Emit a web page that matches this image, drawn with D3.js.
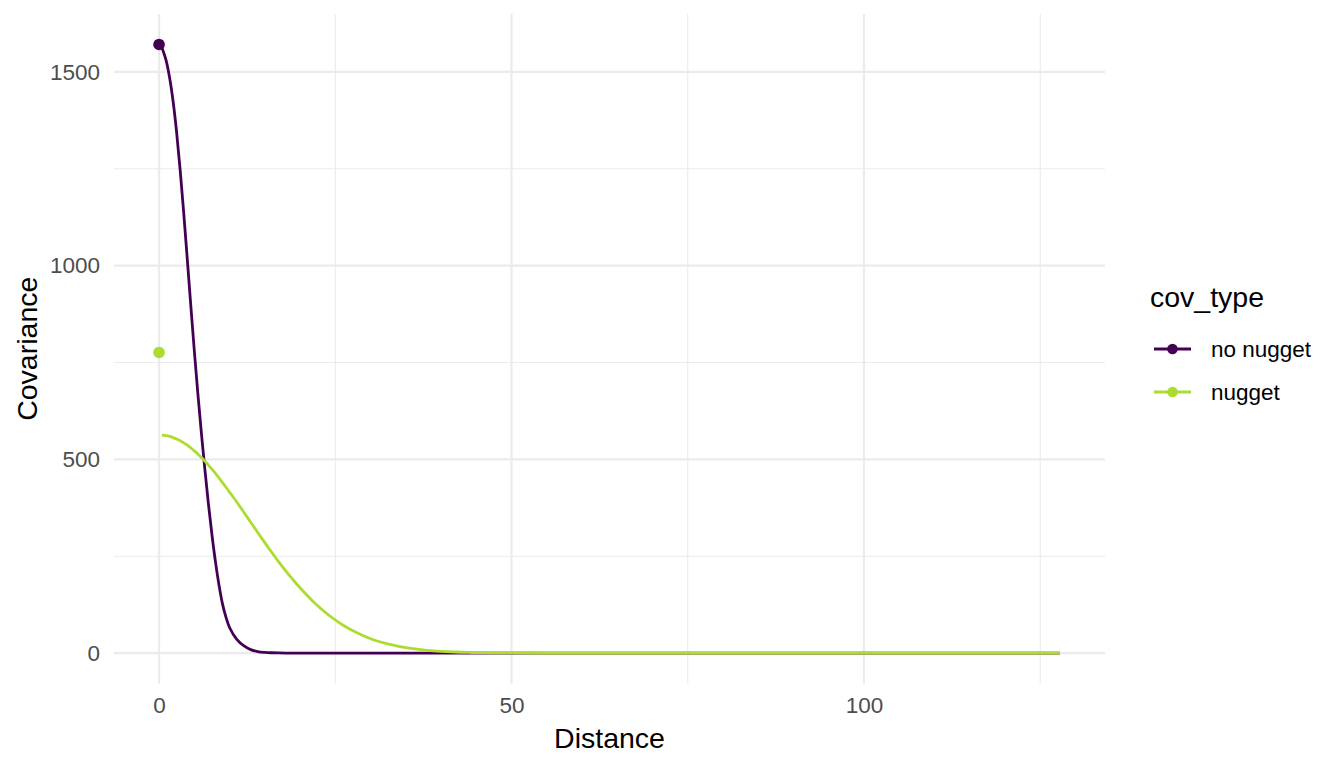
<!DOCTYPE html>
<html>
<head>
<meta charset="utf-8">
<script src="https://cdn.jsdelivr.net/npm/d3@7"></script>
<style>
  html, body { margin: 0; padding: 0; background: #ffffff; }
  svg { display: block; font-family: "Liberation Sans", Arial, Helvetica, sans-serif; }
</style>
</head>
<body>
<svg id="chart" width="1344" height="768"></svg>
<script>
// ---- data ----
const distances = [0.4, 1, 1.5, 2, 2.5, 3, 3.5, 4, 4.5, 5, 5.5, 6, 6.5, 7, 7.5, 8, 8.5, 9, 9.5, 10,
  11, 12, 13, 14, 15, 16, 17, 18, 19, 20, 22, 24, 26, 28, 30, 32, 34, 36, 38, 40,
  42, 44, 46, 48, 50, 55, 60, 70, 80, 90, 100, 110, 120, 127.8];
const noNuggetCov = [1563, 1530, 1485, 1423, 1343, 1246, 1136, 1018, 898, 781, 671, 569, 474, 386, 306, 236, 176, 127, 92, 66,
  36, 19, 9, 4, 1.8, 0.8, 0.3, 0.1, 0, 0, 0, 0, 0, 0, 0, 0, 0, 0, 0, 0,
  0, 0, 0, 0, 0, 0, 0, 0, 0, 0, 0, 0, 0, 0];
const nuggetCov = [562.7, 561.3, 559.2, 556.2, 552.4, 547.9, 542.5, 536.5, 529.6, 522.0, 513.8, 504.9, 495.4, 485.3, 474.7, 463.6, 452.1, 440.2, 428.0, 415.6,
  390.5, 364.3, 337.8, 311.2, 285.0, 259.5, 235.0, 211.6, 189.4, 168.5, 130.5, 98.9, 73.2, 52.9, 37.1, 25.5, 17.2, 11.2, 7.2, 4.5,
  2.7, 1.6, 0.9, 0.5, 0.3, 0.1, 0, 0, 0, 0, 0, 0, 0, 0];
const pointDistance = [0, 0];
const pointCov = [1571, 776];
const covTypes = ["no nugget", "nugget"];
const colors = ["#440154", "#ADDC30"];
const xTicks = [0, 50, 100];
const xMinor = [25, 75, 125];
const yTicks = [0, 500, 1000, 1500];
const yMinor = [250, 750, 1250];

// ---- layout ----
const svg = d3.select("#chart");
const panel = { left: 114, right: 1105, top: 14, bottom: 683.5 };
const x = d3.scaleLinear().domain([-6.39, 134.19]).range([panel.left, panel.right]);
const y = d3.scaleLinear().domain([-78.55, 1649.6]).range([panel.bottom, panel.top]);
const grid = "#EBEBEB";

// minor grid
svg.append("g").selectAll("line").data(xMinor).join("line")
  .attr("x1", d => x(d)).attr("x2", d => x(d)).attr("y1", panel.top).attr("y2", panel.bottom)
  .attr("stroke", grid).attr("stroke-width", 1.1);
svg.append("g").selectAll("line").data(yMinor).join("line")
  .attr("y1", d => y(d)).attr("y2", d => y(d)).attr("x1", panel.left).attr("x2", panel.right)
  .attr("stroke", grid).attr("stroke-width", 1.1);
// major grid
svg.append("g").selectAll("line").data(xTicks).join("line")
  .attr("x1", d => x(d)).attr("x2", d => x(d)).attr("y1", panel.top).attr("y2", panel.bottom)
  .attr("stroke", grid).attr("stroke-width", 2.2);
svg.append("g").selectAll("line").data(yTicks).join("line")
  .attr("y1", d => y(d)).attr("y2", d => y(d)).attr("x1", panel.left).attr("x2", panel.right)
  .attr("stroke", grid).attr("stroke-width", 2.2);

// axes (labels only, via d3 axis generators)
const xAxis = svg.append("g").attr("transform", `translate(0,${panel.bottom})`)
  .call(d3.axisBottom(x).tickValues(xTicks).tickSize(0).tickPadding(14).tickFormat(d3.format("d")));
const yAxis = svg.append("g").attr("transform", `translate(${panel.left},0)`)
  .call(d3.axisLeft(y).tickValues(yTicks).tickSize(0).tickPadding(14).tickFormat(d3.format("d")));
[xAxis, yAxis].forEach(a => {
  a.select(".domain").remove();
  a.selectAll("text").attr("fill", "#4D4D4D").style("font-size", "22.5px")
    .style("font-family", '"Liberation Sans", Arial, sans-serif');
});

// lines
const series = [noNuggetCov, nuggetCov];
const line = d3.line().x(d => x(d[0])).y(d => y(d[1])).curve(d3.curveCatmullRom.alpha(0.5));
series.forEach((vals, i) => {
  svg.append("path")
    .datum(distances.map((d, j) => [d, vals[j]]))
    .attr("fill", "none").attr("stroke", colors[i]).attr("stroke-width", 2.8)
    .attr("stroke-linejoin", "round")
    .attr("d", line);
});
// points
svg.append("g").selectAll("circle").data(pointCov).join("circle")
  .attr("cx", (d, i) => x(pointDistance[i])).attr("cy", d => y(d)).attr("r", 5.8)
  .attr("fill", (d, i) => colors[i]);

// axis titles
svg.append("text").attr("x", (panel.left + panel.right) / 2).attr("y", 748)
  .attr("text-anchor", "middle").style("font-size", "28.5px").attr("fill", "#000")
  .text("Distance");
svg.append("text").attr("transform", `translate(37,${(panel.top + panel.bottom) / 2}) rotate(-90)`)
  .attr("text-anchor", "middle").style("font-size", "28.5px").attr("fill", "#000")
  .text("Covariance");

// legend
const lg = svg.append("g");
lg.append("text").attr("x", 1150).attr("y", 307).style("font-size", "28.5px").attr("fill", "#000").text("cov_type");
const keyY = [349, 392];
covTypes.forEach((t, i) => {
  lg.append("line").attr("x1", 1154).attr("x2", 1191).attr("y1", keyY[i]).attr("y2", keyY[i])
    .attr("stroke", colors[i]).attr("stroke-width", 2.8);
  lg.append("circle").attr("cx", 1172.5).attr("cy", keyY[i]).attr("r", 5.3).attr("fill", colors[i]);
  lg.append("text").attr("x", 1211).attr("y", keyY[i]).attr("dy", "0.35em")
    .style("font-size", "22.5px").attr("fill", "#000").text(t);
});
</script>
</body>
</html>
